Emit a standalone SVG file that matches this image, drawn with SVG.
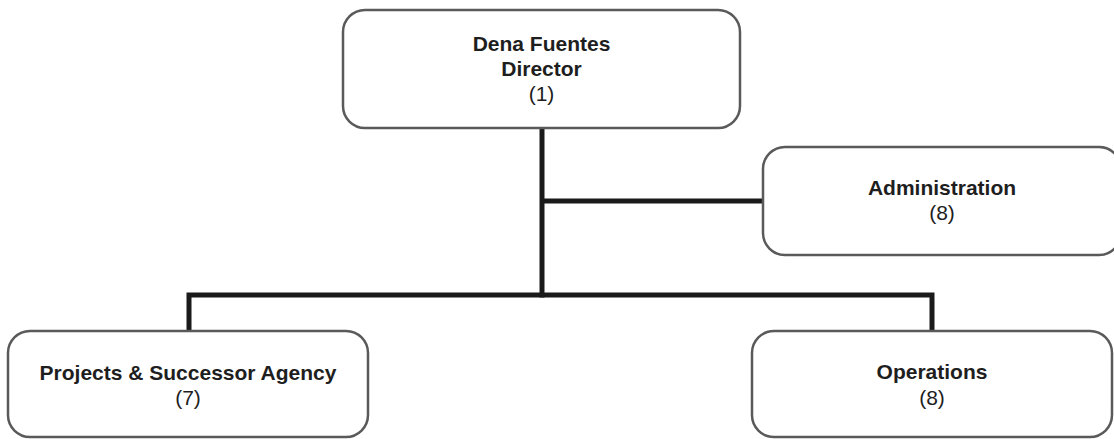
<svg xmlns="http://www.w3.org/2000/svg" width="1114" height="439" viewBox="0 0 1114 439">
<style>
.box{fill:#fff;stroke:#5a5a5a;stroke-width:2.5}
.t{font-family:"Liberation Sans",Arial,sans-serif;font-size:21px;fill:#1e1e1e;text-anchor:middle}
.b{font-weight:bold}
.c{fill:none;stroke:#1a1a1a;stroke-width:5;stroke-linecap:butt;stroke-linejoin:miter}
</style>
<rect width="1114" height="439" fill="#fff"/>
<g id="connectors">
<path class="c" d="M542,128 V297.5"/>
<path class="c" d="M542,201 H764"/>
<path class="c" d="M189,331 V295 H932 V331"/>
</g>
<g id="director">
<rect class="box" x="343" y="10" width="397" height="118" rx="22"/>
<text class="t b" x="541.5" y="51">Dena Fuentes</text>
<text class="t b" x="541.5" y="76">Director</text>
<text class="t" x="541.5" y="101">(1)</text>
</g>
<g id="administration">
<rect class="box" x="763" y="147" width="358" height="108" rx="22"/>
<text class="t b" x="942" y="195">Administration</text>
<text class="t" x="942" y="220">(8)</text>
</g>
<g id="projects">
<rect class="box" x="8" y="331" width="360" height="106" rx="22"/>
<text class="t b" x="188" y="380">Projects &amp; Successor Agency</text>
<text class="t" x="188" y="405">(7)</text>
</g>
<g id="operations">
<rect class="box" x="752" y="331" width="360" height="106" rx="22"/>
<text class="t b" x="932" y="379">Operations</text>
<text class="t" x="932" y="405">(8)</text>
</g>
</svg>
